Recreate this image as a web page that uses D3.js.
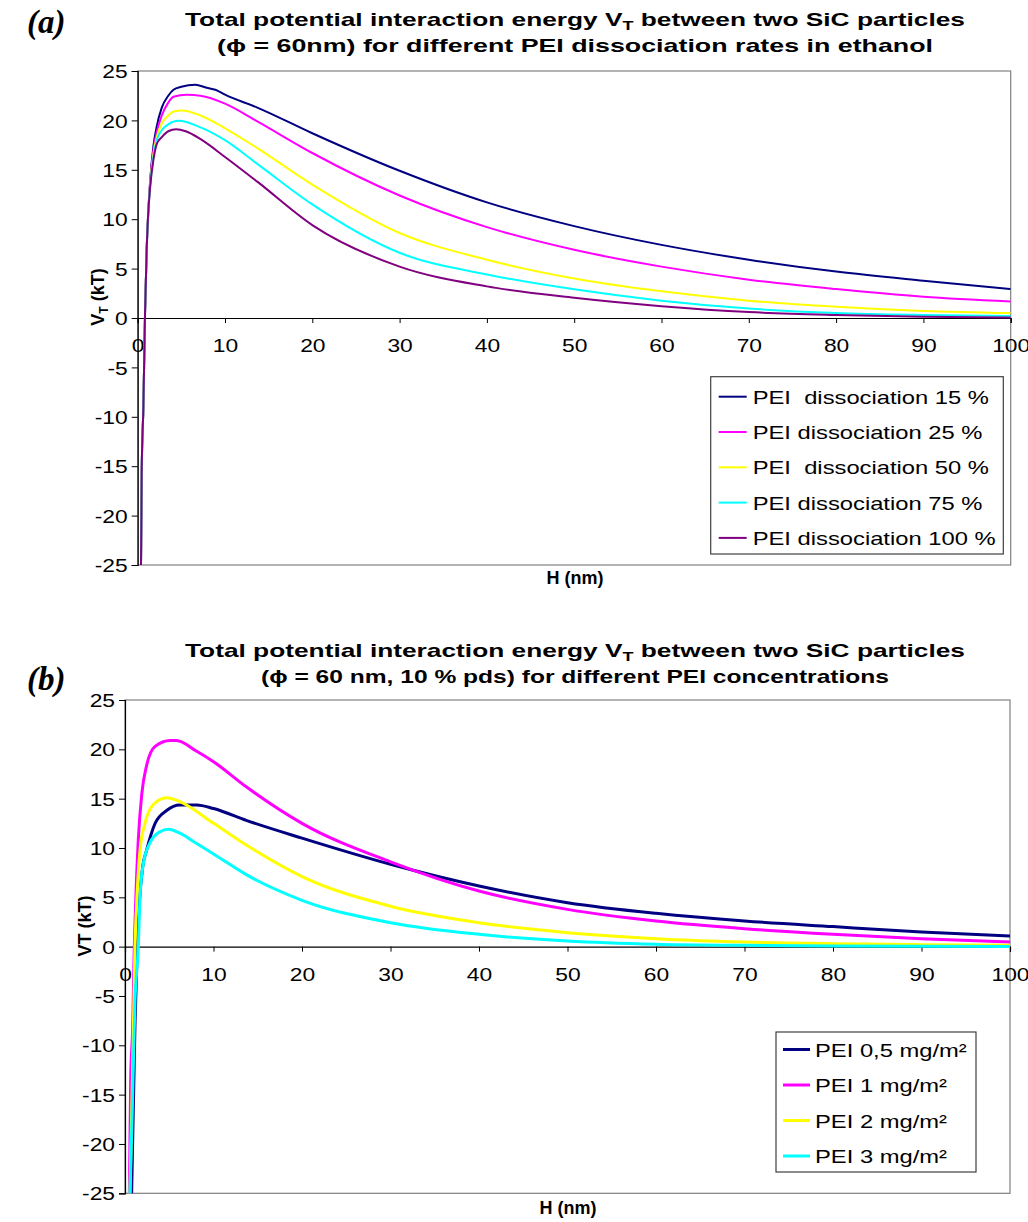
<!DOCTYPE html>
<html><head><meta charset="utf-8">
<script src="https://cdn.jsdelivr.net/npm/d3@7"></script>
<style>
body{margin:0;background:#fff}
text{font-family:"Liberation Sans",Arial,sans-serif;fill:#000}
</style>
</head><body>
<svg id="c" width="1028" height="1222"></svg>
<script>
// ---------- data ----------
const xTickValues = [0,10,20,30,40,50,60,70,80,90,100];
const yTickValues = [-25,-20,-15,-10,-5,0,5,10,15,20,25];

// (a) PEI dissociation rates in ethanol
const namesA = ["PEI  dissociation 15 %","PEI dissociation 25 %","PEI  dissociation 50 %","PEI dissociation 75 %","PEI dissociation 100 %"];
const A_15 = [[0.38,-25],[0.46,-15.5],[0.65,-9],[0.84,0.5],[1.03,7],[1.2,10.5],[1.42,13.8],[1.8,17.4],[2.18,19.4],[2.76,21.3],[3.5,22.5],[4.1,23.1],[5,23.4],[6.6,23.6],[7.9,23.3],[8.9,23.1],[10,22.6],[13.7,21.3],[20,18.7],[30,14.9],[40,11.7],[50,9.3],[60,7.4],[70,5.9],[80,4.7],[90,3.78],[100,2.94]];
const A_25 = [[0.38,-25],[0.46,-15.5],[0.65,-9],[0.84,0.5],[1.03,7],[1.2,10.5],[1.42,13.6],[1.8,17.0],[2.18,18.8],[2.76,20.5],[3.5,21.8],[4.1,22.4],[5.6,22.6],[7.2,22.5],[10,21.7],[13.7,19.9],[20,16.7],[30,12.4],[40,9.2],[50,6.9],[60,5.2],[70,3.88],[80,2.93],[90,2.16],[100,1.68]];
const A_50 = [[0.38,-25],[0.46,-15.5],[0.65,-9],[0.84,0.5],[1.03,7],[1.2,10.5],[1.42,13.4],[1.8,16.6],[2.18,18.3],[2.76,19.7],[3.5,20.5],[4.1,20.9],[5.06,21.0],[7.2,20.5],[10,19.2],[13.7,17.2],[20,13.5],[30,8.6],[40,5.9],[50,4.0],[60,2.7],[70,1.75],[80,1.14],[90,0.72],[100,0.5]];
const A_75 = [[0.38,-25],[0.46,-15.5],[0.65,-9],[0.84,0.5],[1.03,7],[1.2,10.5],[1.42,13.3],[1.8,16.3],[2.18,18.0],[2.76,19.0],[3.5,19.6],[4.67,19.96],[7.2,19.3],[10,18.0],[13.7,15.6],[20,11.5],[30,6.6],[40,4.4],[50,2.9],[60,1.75],[70,0.95],[80,0.5],[90,0.3],[100,0.2]];
const A_100 = [[0.38,-25],[0.46,-15.5],[0.65,-9],[0.84,0.5],[1.03,7],[1.2,10.5],[1.42,13.2],[1.8,16.0],[2.18,17.6],[2.76,18.3],[3.5,18.9],[4.4,19.1],[5.5,18.9],[7.2,18.1],[10,16.3],[13.7,13.8],[20,9.4],[30,5.2],[40,3.2],[50,2.05],[60,1.2],[70,0.6],[80,0.3],[90,0.12],[100,0.05]];

// (b) PEI concentrations
const namesB = ["PEI 0,5 mg/m²","PEI 1 mg/m²","PEI 2 mg/m²","PEI 3 mg/m²"];
const B_05 = [[0.75,-25],[1.13,-7.8],[1.39,0],[1.62,4.4],[2.0,8.1],[2.45,9.8],[3.4,12.5],[4.7,13.8],[6.2,14.36],[8.1,14.36],[10,14.0],[13.7,12.8],[20,11.0],[30,8.35],[40,6.15],[50,4.46],[60,3.38],[70,2.6],[80,2.03],[90,1.49],[100,1.08]];
const B_1 = [[0.49,-25],[0.64,-13.5],[0.87,-8.1],[1.05,0],[1.13,2.4],[1.5,10.8],[1.9,15.5],[2.45,18.4],[3.4,20.3],[5.1,20.9],[5.8,20.9],[8.1,19.8],[10,18.75],[13.7,16.2],[20,12.5],[30,8.6],[40,5.64],[50,3.78],[60,2.6],[70,1.82],[80,1.25],[90,0.81],[100,0.47]];
const B_2 = [[0.56,-25],[0.87,-12],[1.13,0],[1.39,5.7],[1.7,9.8],[2.26,12.5],[3.2,14.4],[4.7,15.1],[6.2,14.7],[10,12.5],[13.7,10.3],[20,7.1],[30,4.1],[40,2.43],[50,1.42],[60,0.81],[70,0.47],[80,0.3],[90,0.2],[100,0.13]];
const B_3 = [[0.56,-25],[0.75,-19],[1.13,-5.4],[1.5,0],[1.7,5.1],[2.07,8.4],[2.8,10.5],[3.95,11.65],[4.9,11.9],[6.2,11.5],[8,10.5],[10,9.4],[13.7,7.3],[20,4.7],[30,2.43],[40,1.25],[50,0.57],[60,0.24],[70,0.13],[80,0.06],[90,0.03],[100,0.02]];

const colorsA = ["#000080","#FF00FF","#FFFF00","#00FFFF","#800080"];
const colorsB = ["#000080","#FF00FF","#FFFF00","#00FFFF"];

// ---------- drawing ----------
const svg = d3.select("#c");

function stretch(sel, f){
  sel.each(function(){
    const L = this.getComputedTextLength();
    d3.select(this).attr("textLength", L*f).attr("lengthAdjust","spacingAndGlyphs");
  });
}
function fixLen(sel, L){
  sel.attr("textLength", L).attr("lengthAdjust","spacingAndGlyphs");
}

function panel(o){
  const g = svg.append("g");
  const x = d3.scaleLinear().domain([0,100]).range([o.left,o.right]);
  const y = d3.scaleLinear().domain([-25,25]).range([o.bottom,o.top]);

  // label (a)/(b)
  g.append("text").attr("x",o.tagX).attr("y",o.tagY)
    .style("font-family","'Liberation Serif','Times New Roman',serif")
    .style("font-weight","bold").style("font-style","italic").style("font-size","33px")
    .text(o.tag);

  // title
  const t1 = g.append("text").attr("x",o.titleX).attr("y",o.titleY1).attr("text-anchor","middle")
    .style("font-weight","bold").style("font-size","19px");
  t1.append("tspan").text("Total potential interaction energy V");
  t1.append("tspan").attr("dy",4).style("font-size","13px").text("T");
  t1.append("tspan").attr("dy",-4).text(" between two SiC particles");
  fixLen(t1, o.t1Len);
  const t2 = g.append("text").attr("x",o.titleX).attr("y",o.titleY2).attr("text-anchor","middle")
    .style("font-weight","bold").style("font-size","19px").text(o.title2);
  fixLen(t2, o.t2Len);

  // plot border (grey)
  g.append("rect").attr("x",o.left).attr("y",o.top).attr("width",o.right-o.left).attr("height",o.bottom-o.top)
    .attr("fill","none").attr("stroke","#808080").attr("stroke-width",1.2);

  // y axis
  const ya = g.append("g").attr("transform",`translate(${o.left},0)`)
    .call(d3.axisLeft(y).tickValues(yTickValues).tickSize(6).tickPadding(4).tickFormat(d=>String(d)));
  ya.select(".domain").attr("stroke","#000").attr("stroke-width",1.2);
  ya.selectAll(".tick line").attr("stroke","#000");
  ya.selectAll(".tick text").style("font-size","19px").style("font-family","'Liberation Sans',Arial,sans-serif").attr("dy","0.35em");
  stretch(ya.selectAll(".tick text"), 1.2);

  // x axis at y=0
  const xa = g.append("g").attr("transform",`translate(0,${y(0)})`)
    .call(d3.axisBottom(x).tickValues(xTickValues).tickSize(5).tickPadding(16).tickFormat(d=>String(d)));
  xa.select(".domain").attr("stroke","#000").attr("stroke-width",1.2);
  xa.selectAll(".tick line").attr("stroke","#000");
  xa.selectAll(".tick text").style("font-size","19px").style("font-family","'Liberation Sans',Arial,sans-serif");
  stretch(xa.selectAll(".tick text"), 1.2);

  // axis titles
  const yl = g.append("text").attr("transform",`translate(${o.ylabX},${o.ylabY}) rotate(-90)`)
    .attr("text-anchor","middle").style("font-weight","bold").style("font-size","18px");
  if (o.ysub){
    yl.append("tspan").text("V");
    yl.append("tspan").attr("dy",4).style("font-size","12px").text("T");
    yl.append("tspan").attr("dy",-4).text(" (kT)");
  } else yl.text("VT (kT)");
  g.append("text").attr("x",o.xlabX).attr("y",o.xlabY).attr("text-anchor","middle")
    .style("font-weight","bold").style("font-size","18px").text("H (nm)");

  // clip
  const cid = "clip"+o.tag.replace(/\W/g,"");
  svg.append("clipPath").attr("id",cid).append("rect")
    .attr("x",o.left).attr("y",o.top-2).attr("width",o.right-o.left).attr("height",o.bottom-o.top+4);

  const line = d3.line().x(d=>x(d[0])).y(d=>y(d[1])).curve(d3.curveMonotoneX);
  const lg = g.append("g").attr("clip-path",`url(#${cid})`);
  o.series.forEach((s,i)=>{
    lg.append("path").attr("d",line(s)).attr("fill","none")
      .attr("stroke",o.colors[i]).attr("stroke-width",o.lw).attr("stroke-linejoin","round");
  });

  // legend
  const L = o.legend;
  g.append("rect").attr("x",L.x).attr("y",L.y).attr("width",L.w).attr("height",L.h)
    .attr("fill","#fff").attr("stroke","#404040").attr("stroke-width",1.2);
  o.names.forEach((n,i)=>{
    const cy = L.y + L.first + i*L.step;
    g.append("line").attr("x1",L.x+L.l1).attr("x2",L.x+L.l2).attr("y1",cy).attr("y2",cy)
      .attr("stroke",o.colors[i]).attr("stroke-width",o.lw);
    const t = g.append("text").attr("x",L.x+L.tx).attr("y",cy+7).style("font-size","19px")
      .style("white-space","pre").attr("xml:space","preserve").text(n);
    stretch(t, 1.25);
  });
}

panel({
  tag:"(a)", tagX:27, tagY:33,
  titleX:575, titleY1:26, titleY2:52, t1Len:780, t2Len:716,
  title2:"(ϕ = 60nm) for different PEI dissociation rates in ethanol",
  left:137.7, right:1010.7, top:71, bottom:565,
  ylabX:104, ylabY:297, ysub:true, xlabX:575, xlabY:584,
  series:[A_15,A_25,A_50,A_75,A_100], names:namesA, colors:colorsA, lw:2,
  legend:{x:710.7,y:376.7,w:292.6,h:177.3,first:20,step:35.3,l1:8,l2:36,tx:42}
});

panel({
  tag:"(b)", tagX:27, tagY:690,
  titleX:575, titleY1:657, titleY2:683, t1Len:780, t2Len:628,
  title2:"(ϕ = 60 nm, 10 % pds) for different PEI concentrations",
  left:125, right:1010, top:700, bottom:1193.3,
  ylabX:91, ylabY:926, ysub:false, xlabX:568, xlabY:1214,
  series:[B_05,B_1,B_2,B_3], names:namesB, colors:colorsB, lw:3,
  legend:{x:776,y:1032,w:200,h:140,first:17.5,step:35.5,l1:7,l2:34,tx:39}
});
</script>
</body></html>
